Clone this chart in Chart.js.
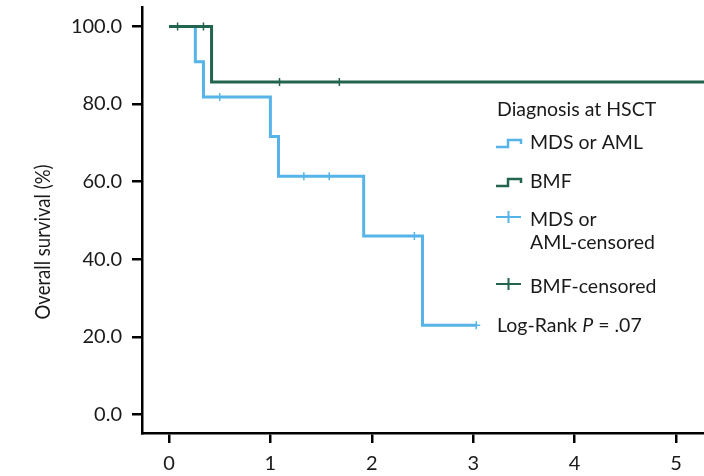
<!DOCTYPE html>
<html>
<head>
<meta charset="utf-8">
<script src="https://cdn.jsdelivr.net/npm/chart.js@4"></script>
<style>
html, body { margin: 0; padding: 0; background: #fff; }
</style>
</head>
<body>
<canvas id="myChart" width="704" height="476"></canvas>
<script>
// survival curves (years, %)
const mds_times = [0, 0.26, 0.34, 1.0, 1.08, 1.92, 2.5, 3.03];
const mds_surv = [100, 90.9, 81.8, 71.6, 61.4, 46.0, 23.0, 23.0];
const bmf_times = [0, 0.42, 5.4];
const bmf_surv = [100, 85.7, 85.7];

// censored observations
const mds_cens_times = [0.5, 1.33, 1.58, 2.42, 3.03];
const mds_cens_surv = [81.8, 61.4, 61.4, 46.0, 23.0];
const bmf_cens_times = [0.085, 0.34, 1.09, 1.68];
const bmf_cens_surv = [100, 100, 85.7, 85.7];

const x_ticks = [0, 1, 2, 3, 4, 5];
const y_ticks = [0, 20, 40, 60, 80, 100];

const y_title = "Overall survival (%)";
const legend_title = "Diagnosis at HSCT";
const legend_labels = ["MDS or AML", "BMF", ["MDS or", "AML-censored"], "BMF-censored"];
const logrank_parts = ["Log-Rank ", "P", " = .07"];

const blue = "#56b4e9";
const green = "#22644f";
const textColor = "#1a1a1a";
const fontFamily = "Lato, 'Open Sans', sans-serif";
const legendFont = "19.5px " + fontFamily;

const toPoints = (xs, ys) => xs.map((x, i) => ({ x: x, y: ys[i] }));

const data = {
  datasets: [
    {
      label: legend_labels[0],
      data: toPoints(mds_times, mds_surv),
      borderColor: blue,
      borderWidth: 3,
      stepped: "before",
      pointRadius: 0,
      order: 2,
    },
    {
      label: legend_labels[1],
      data: toPoints(bmf_times, bmf_surv),
      borderColor: green,
      borderWidth: 3,
      stepped: "before",
      pointRadius: 0,
      order: 1,
    },
    {
      label: "MDS or AML-censored",
      data: toPoints(mds_cens_times, mds_cens_surv),
      showLine: false,
      borderColor: blue,
      pointStyle: "cross",
      pointRadius: 4,
      pointBorderWidth: 1.5,
      order: 0,
    },
    {
      label: legend_labels[3],
      data: toPoints(bmf_cens_times, bmf_cens_surv),
      showLine: false,
      borderColor: green,
      pointStyle: "cross",
      pointRadius: 4,
      pointBorderWidth: 1.5,
      order: 0,
    },
  ],
};

// legend and y title drawn by hand to keep the step icons
const kmLegend = {
  id: "kmLegend",
  afterDraw(chart) {
    const ctx = chart.ctx;
    ctx.save();
    ctx.fillStyle = textColor;
    ctx.textBaseline = "middle";
    ctx.textAlign = "left";
    ctx.font = legendFont;
    ctx.fillText(legend_title, 497, 110);

    const rows = [143, 182, [220, 243], 287];
    const colors = [blue, green, blue, green];
    const x0 = 496, x1 = 521, tx = 530;
    rows.forEach((row, i) => {
      const cy = Array.isArray(row) ? row[0] : row;
      ctx.strokeStyle = colors[i];
      ctx.lineWidth = 2.5;
      ctx.beginPath();
      if (i < 2) {
        ctx.moveTo(x0, cy + 4);
        ctx.lineTo(x0 + 12, cy + 4);
        ctx.lineTo(x0 + 12, cy - 3);
        ctx.lineTo(x1, cy - 3);
        ctx.lineTo(x1, cy + 1);
      } else {
        ctx.lineWidth = 2;
        ctx.moveTo(x0, cy - 3);
        ctx.lineTo(x1, cy - 3);
        ctx.moveTo((x0 + x1) / 2, cy - 9);
        ctx.lineTo((x0 + x1) / 2, cy + 3);
      }
      ctx.stroke();
      const lines = Array.isArray(legend_labels[i]) ? legend_labels[i] : [legend_labels[i]];
      lines.forEach((t, j) => {
        ctx.fillText(t, tx, Array.isArray(row) ? row[j] : row);
      });
    });

    // log-rank note with italic P
    let lx = 497;
    const ly = 326;
    logrank_parts.forEach((t, i) => {
      ctx.font = (i === 1 ? "italic " : "") + legendFont;
      ctx.fillText(t, lx, ly);
      lx += ctx.measureText(t).width;
    });

    // y axis title, squeezed to the condensed look of the original
    ctx.translate(43, 242);
    ctx.rotate(-Math.PI / 2);
    ctx.textAlign = "center";
    ctx.font = "22px " + fontFamily;
    const w = ctx.measureText(y_title).width;
    ctx.scale(155 / w, 1);
    ctx.fillText(y_title, 0, 0);
    ctx.restore();
  },
};

const config = {
  type: "line",
  data,
  options: {
    responsive: false,
    devicePixelRatio: 1,
    animation: false,
    layout: { autoPadding: false, padding: { top: 7, right: 0, left: 0, bottom: 0 } },
    plugins: {
      legend: { display: false },
      tooltip: { enabled: false },
    },
    scales: {
      x: {
        type: "linear",
        min: -0.266,
        max: 5.276,
        afterBuildTicks: (scale) => {
          scale.ticks = x_ticks.map((v) => ({ value: v }));
        },
        afterFit: (scale) => {
          scale.height = 43;
          scale.paddingLeft = 0;
          scale.paddingRight = 0;
        },
        grid: {
          drawOnChartArea: false,
          drawTicks: true,
          tickLength: 10,
          color: "#000",
          lineWidth: 2.5,
        },
        border: { display: true, color: "#000", width: 2.5 },
        ticks: {
          padding: 9,
          color: textColor,
          font: { family: fontFamily, size: 20 },
          maxRotation: 0,
          callback: (v) => String(v),
        },
      },
      y: {
        type: "linear",
        min: -4.8,
        max: 105,
        afterBuildTicks: (scale) => {
          scale.ticks = y_ticks.map((v) => ({ value: v }));
        },
        afterFit: (scale) => {
          scale.width = 142;
          scale.paddingTop = 0;
          scale.paddingBottom = 0;
        },
        grid: {
          drawOnChartArea: false,
          drawTicks: true,
          tickLength: 10,
          color: "#000",
          lineWidth: 2.5,
        },
        border: { display: true, color: "#000", width: 2.5 },
        ticks: {
          padding: 10,
          color: textColor,
          font: { family: fontFamily, size: 20 },
          callback: (v) => Number(v).toFixed(1),
        },
      },
    },
  },
  plugins: [kmLegend],
};

const myChart = new Chart(document.getElementById("myChart"), config);
</script>
</body>
</html>
